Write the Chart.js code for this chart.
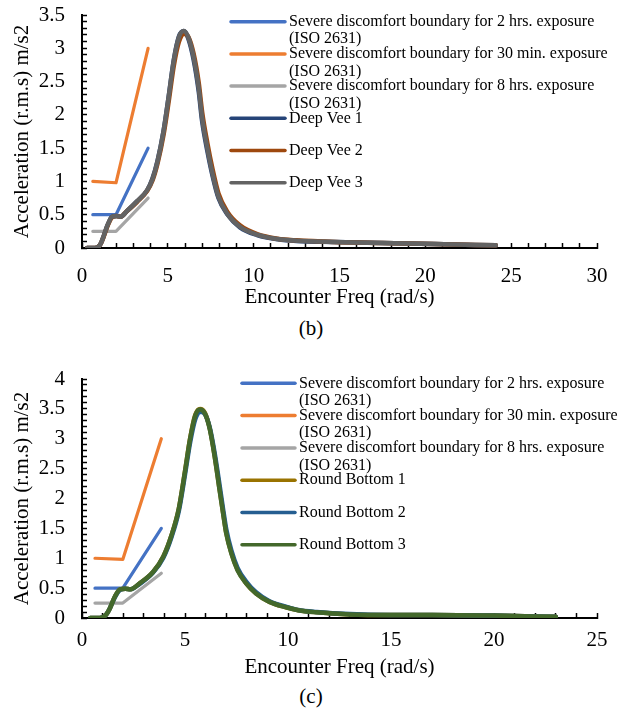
<!DOCTYPE html>
<html>
<head>
<meta charset="utf-8">
<script src="https://cdn.jsdelivr.net/npm/chart.js@4.4.1/dist/chart.umd.min.js"></script>
<style>
  body { margin: 0; background: #fff; width: 622px; height: 709px; position: relative; overflow: hidden;
         font-family: 'Liberation Serif', 'Times New Roman', serif; }
  .panel { position: absolute; left: 0; width: 622px; }
  .cap { position: absolute; left: 0; width: 622px; text-align: center; font-size: 21px; line-height: 24px; color: #000; }
</style>
</head>
<body>
<div class="panel" style="top:0"><canvas id="chart-b" width="622" height="312"></canvas></div>
<div class="cap" style="top:316px">(b)</div>
<div class="panel" style="top:360px"><canvas id="chart-c" width="622" height="322"></canvas></div>
<div class="cap" style="top:684px">(c)</div>

<script>
// ISO 2631 severe discomfort boundaries (rad/s vs m/s2 r.m.s)
const boundFreq = [0.63, 1.98, 3.85];
const bound2h = [0.5, 0.5, 1.5];
const bound30m = [1.0, 0.98, 3.0];
const bound8h = [0.25, 0.25, 0.75];

const boundLabels = [
  ['Severe discomfort boundary for 2 hrs. exposure', '(ISO 2631)'],
  ['Severe discomfort boundary for 30 min. exposure', '(ISO 2631)'],
  ['Severe discomfort boundary for 8 hrs. exposure', '(ISO 2631)'],
];

// (b) Deep Vee hulls
const freqB = [0.3, 0.7, 0.85, 1.0, 1.12, 1.25, 1.5, 1.75, 2.0, 2.25, 2.6, 3.2, 3.8, 4.1, 4.4, 4.75, 5.05, 5.35, 5.65, 5.93,
  6.2, 6.5, 6.8, 7.0, 7.3, 7.6, 7.95, 8.45, 9.2, 10.2, 11.4, 12.5, 14.7, 17.5, 20.5, 24.1];
const deepVee1 = [0, 0, 0.006, 0.03, 0.08, 0.17, 0.35, 0.47, 0.48, 0.47, 0.55, 0.70, 0.87, 1.04, 1.31, 1.76, 2.28, 2.83, 3.18, 3.26,
  3.14, 2.83, 2.35, 1.90, 1.46, 1.09, 0.75, 0.51, 0.31, 0.195, 0.13, 0.105, 0.09, 0.075, 0.06, 0.04];
const deepVee2 = [0, 0, 0.006, 0.03, 0.08, 0.16, 0.34, 0.46, 0.48, 0.47, 0.55, 0.69, 0.86, 1.01, 1.27, 1.70, 2.20, 2.74, 3.10, 3.22,
  3.17, 2.92, 2.48, 2.04, 1.58, 1.19, 0.82, 0.55, 0.34, 0.21, 0.14, 0.115, 0.09, 0.075, 0.06, 0.04];
const deepVee3 = [0, 0, 0.006, 0.03, 0.08, 0.17, 0.35, 0.47, 0.48, 0.47, 0.55, 0.70, 0.87, 1.03, 1.30, 1.75, 2.27, 2.82, 3.17, 3.26,
  3.16, 2.87, 2.40, 1.95, 1.50, 1.12, 0.77, 0.52, 0.32, 0.20, 0.135, 0.11, 0.09, 0.075, 0.06, 0.04];

// (c) Round Bottom hulls
const freqC = [0.4, 0.8, 0.93, 1.05, 1.2, 1.35, 1.6, 1.85, 2.1, 2.35, 2.8, 3.45, 3.95, 4.35, 4.7, 5.0, 5.25, 5.5, 5.73, 5.97,
  6.2, 6.45, 6.68, 6.85, 7.0, 7.25, 7.55, 7.97, 8.45, 9.1, 9.9, 10.5, 11.4, 13.0, 15.0, 17.0, 20.0, 23.0];
const roundBottom1 = [0, 0, 0.005, 0.02, 0.07, 0.16, 0.36, 0.48, 0.49, 0.48, 0.58, 0.77, 1.03, 1.39, 1.83, 2.46, 3.01, 3.40, 3.50, 3.43,
  3.17, 2.69, 2.15, 1.76, 1.43, 1.09, 0.81, 0.58, 0.41, 0.27, 0.18, 0.13, 0.095, 0.06, 0.05, 0.05, 0.04, 0.02];
const roundBottom2 = [0, 0, 0.005, 0.02, 0.07, 0.16, 0.35, 0.47, 0.49, 0.48, 0.57, 0.76, 1.01, 1.36, 1.79, 2.40, 2.94, 3.33, 3.45, 3.41,
  3.19, 2.74, 2.22, 1.82, 1.49, 1.13, 0.84, 0.61, 0.43, 0.28, 0.19, 0.135, 0.10, 0.065, 0.05, 0.05, 0.04, 0.02];
const roundBottom3 = [0, 0, 0.005, 0.02, 0.07, 0.16, 0.36, 0.48, 0.49, 0.48, 0.58, 0.77, 1.03, 1.39, 1.83, 2.45, 3.00, 3.39, 3.49, 3.42,
  3.17, 2.68, 2.14, 1.75, 1.42, 1.08, 0.80, 0.58, 0.41, 0.27, 0.18, 0.13, 0.095, 0.06, 0.05, 0.05, 0.04, 0.02];

// labelled ticks; unlabelled minor marks fall every 1 rad/s and every 0.1 m/s2
const xTicksB = [0, 5, 10, 15, 20, 25, 30];
const xTicksC = [0, 5, 10, 15, 20, 25];
const yTicksB = [0, 0.5, 1, 1.5, 2, 2.5, 3, 3.5];
const yTicksC = [0, 0.5, 1, 1.5, 2, 2.5, 3, 3.5, 4];

const FONT = "'Liberation Serif', 'Times New Roman', serif";
Chart.defaults.font.family = FONT;
Chart.defaults.color = '#000';

const pts = (xs, ys) => xs.map((x, i) => ({ x, y: ys[i] }));

function boundarySets() {
  return [
    { data: pts(boundFreq, bound2h), borderColor: '#4472C4', lines: boundLabels[0], order: 5 },
    { data: pts(boundFreq, bound30m), borderColor: '#ED7D31', lines: boundLabels[1], order: 4 },
    { data: pts(boundFreq, bound8h), borderColor: '#A5A5A5', lines: boundLabels[2], order: 3 },
  ].map((d) => ({ ...d, label: d.lines.join(' '), borderWidth: 3.2, tension: 0 }));
}

function hullSet(label, xs, ys, color, order) {
  return {
    label, lines: [label], data: pts(xs, ys), borderColor: color, order,
    borderWidth: 4.5, cubicInterpolationMode: 'monotone',
  };
}

// legend drawn inside the plot area, one row per dataset
const insideLegend = {
  id: 'insideLegend',
  afterDatasetsDraw(chart, args, opts) {
    const { ctx, chartArea } = chart;
    ctx.save();
    ctx.font = '16px ' + FONT;
    ctx.textBaseline = 'middle';
    ctx.fillStyle = '#000';
    ctx.lineCap = 'round';
    chart.data.datasets.forEach((ds, i) => {
      const y = chartArea.top + opts.top + i * opts.rowGap;
      ctx.strokeStyle = ds.borderColor;
      ctx.lineWidth = 3.5;
      ctx.beginPath();
      ctx.moveTo(opts.x0, y);
      ctx.lineTo(opts.x1, y);
      ctx.stroke();
      ds.lines.forEach((t, k) => ctx.fillText(t, opts.x1 + 4, y + k * 17.5));
    });
    ctx.restore();
  },
};

// tick marks only, pointing into the plot (negative length)
const inwardTicks = {
  display: true, drawOnChartArea: false, drawTicks: true,
  tickLength: -5, tickColor: '#000', tickWidth: 1.5,
};

function makeChart(el, cfg) {
  return new Chart(el, {
    type: 'line',
    data: { datasets: cfg.datasets },
    plugins: [insideLegend],
    options: {
      responsive: false,
      animation: false,
      events: [],
      layout: { padding: { top: cfg.padTop, right: 25, left: 0, bottom: 0 } },
      elements: {
        point: { radius: 0 },
        line: { borderCapStyle: 'round', borderJoinStyle: 'round' },
      },
      plugins: {
        legend: { display: false },
        tooltip: { enabled: false },
        insideLegend: cfg.legend,
      },
      scales: {
        x: {
          type: 'linear', min: 0, max: cfg.xMax,
          ticks: {
            stepSize: 1, autoSkip: false, padding: cfg.xPad + 5, maxRotation: 0, font: { size: 21 },
            callback: (v) => (cfg.xTicks.includes(v) ? String(v) : ''),
          },
          grid: inwardTicks,
          border: { display: true, color: '#000', width: 2 },
          title: { display: true, text: 'Encounter Freq (rad/s)', font: { size: 21 }, padding: { top: 0, bottom: 2 } },
          afterFit: (s) => { s.height = 64; s.paddingLeft = 0; s.paddingRight = 0; },
        },
        y: {
          min: 0, max: cfg.yMax,
          afterBuildTicks: (s) => {
            const n = Math.round(cfg.yMax * 10);
            s.ticks = Array.from({ length: n + 1 }, (_, i) => ({ value: i / 10 }));
          },
          ticks: {
            autoSkip: false, padding: 22, font: { size: 21 },
            callback: (v) => (cfg.yTicks.includes(v) ? String(v) : ''),
          },
          grid: inwardTicks,
          border: { display: true, color: '#000', width: 2 },
          title: { display: true, text: 'Acceleration (r.m.s) m/s2', font: { size: 21 }, padding: { top: 10, bottom: 0 } },
          afterFit: (s) => { s.width = 82; s.paddingTop = 0; s.paddingBottom = 0; },
        },
      },
    },
  });
}

makeChart(document.getElementById('chart-b'), {
  xMax: 30, yMax: 3.5, xTicks: xTicksB, yTicks: yTicksB, padTop: 15, xPad: 16,
  legend: { x0: 231, x1: 285, top: 6.7, rowGap: 32.2 },
  datasets: [
    ...boundarySets(),
    hullSet('Deep Vee 1', freqB, deepVee1, '#264478', 2),
    hullSet('Deep Vee 2', freqB, deepVee2, '#9E480E', 1),
    hullSet('Deep Vee 3', freqB, deepVee3, '#636363', 0),
  ],
});

makeChart(document.getElementById('chart-c'), {
  xMax: 25, yMax: 4, xTicks: xTicksC, yTicks: yTicksC, padTop: 19, xPad: 10,
  legend: { x0: 242, x1: 295, top: 4.3, rowGap: 32.3 },
  datasets: [
    ...boundarySets(),
    hullSet('Round Bottom 1', freqC, roundBottom1, '#997300', 2),
    hullSet('Round Bottom 2', freqC, roundBottom2, '#255E91', 1),
    hullSet('Round Bottom 3', freqC, roundBottom3, '#43682B', 0),
  ],
});
</script>
</body>
</html>
